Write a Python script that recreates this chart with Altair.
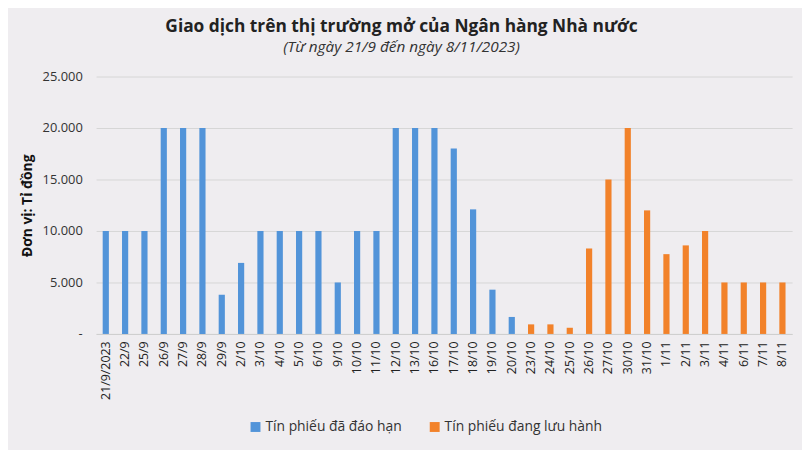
import altair as alt
import pandas as pd

dates = ["21/9/2023", "22/9", "25/9", "26/9", "27/9", "28/9", "29/9", "2/10", "3/10",
         "4/10", "5/10", "6/10", "9/10", "10/10", "11/10", "12/10", "13/10", "16/10",
         "17/10", "18/10", "19/10", "20/10", "23/10", "24/10", "25/10", "26/10", "27/10",
         "30/10", "31/10", "1/11", "2/11", "3/11", "4/11", "6/11", "7/11", "8/11"]

# matured bills (blue), 21/9 -> 20/10
matured = [10000, 10000, 10000, 20000, 20000, 20000, 3800, 6900, 10000, 10000, 10000,
           10000, 5000, 10000, 10000, 20000, 20000, 20000, 18000, 12100, 4300, 1650]
# outstanding bills (orange), 23/10 -> 8/11
outstanding = [930, 930, 600, 8300, 15000, 20000, 12000, 7750, 8600, 10000,
               5000, 5000, 5000, 5000]

series_names = ["Tín phiếu đã đáo hạn", "Tín phiếu đang lưu hành"]
colors = ["#5294D9", "#F2822A"]

df = pd.DataFrame({
    "date": dates,
    "value": matured + outstanding,
    "series": [series_names[0]] * len(matured) + [series_names[1]] * len(outstanding),
})

FONT = "Open Sans"

bars = alt.Chart(df).mark_bar().encode(
    x=alt.X("date:N", sort=dates, title=None,
            scale=alt.Scale(paddingInner=0.68, paddingOuter=0.34),
            axis=alt.Axis(labelAngle=-90, labelFont=FONT, labelFontSize=12.5,
                          labelColor="#222222", ticks=False, domainColor="#CFCFCF",
                          labelPadding=7, labelBaseline="middle", labelAlign="right")),
    y=alt.Y("value:Q", title="Đơn vị: Tỉ đồng",
            scale=alt.Scale(domain=[0, 25000], nice=False),
            axis=alt.Axis(values=[0, 5000, 10000, 15000, 20000, 25000],
                          labelExpr="datum.value == 0 ? '-' : replace(format(datum.value, ','), ',', '.')",
                          labelFont=FONT, labelFontSize=13, labelColor="#333333",
                          labelPadding=14, ticks=False, domain=False,
                          gridColor="#D6D6D6", titleFont=FONT, titleFontSize=14,
                          titleFontWeight="bold", titleColor="#111111", titlePadding=8)),
    color=alt.Color("series:N", title=None,
                    scale=alt.Scale(domain=series_names, range=colors),
                    legend=alt.Legend(orient="none", direction="horizontal",
                                      legendX=154, legendY=347, symbolType="square",
                                      symbolSize=100, symbolStrokeWidth=0,
                                      labelFont=FONT, labelFontSize=14,
                                      labelColor="#333333", columnPadding=26,
                                      labelOffset=3)),
).properties(
    width=703,
    height=260,
    title=alt.TitleParams(
        "Giao dịch trên thị trường mở của Ngân hàng Nhà nước",
        subtitle="(Từ ngày 21/9 đến ngày 8/11/2023)",
        font=FONT, fontSize=17.5, fontWeight="bold", color="#222222",
        subtitleFont=FONT, subtitleFontSize=15.5, subtitleFontStyle="italic",
        subtitleColor="#333333", subtitlePadding=5, anchor="middle", dx=-43, offset=15,
    ),
    autosize=alt.AutoSizeParams(type="none"),
    padding={"left": 89, "top": 67, "right": 10, "bottom": 115},
).configure(background="#EFEDF0").configure_view(stroke=None)

bars.save("out.html", embed_options={"renderer": "svg", "actions": False})
